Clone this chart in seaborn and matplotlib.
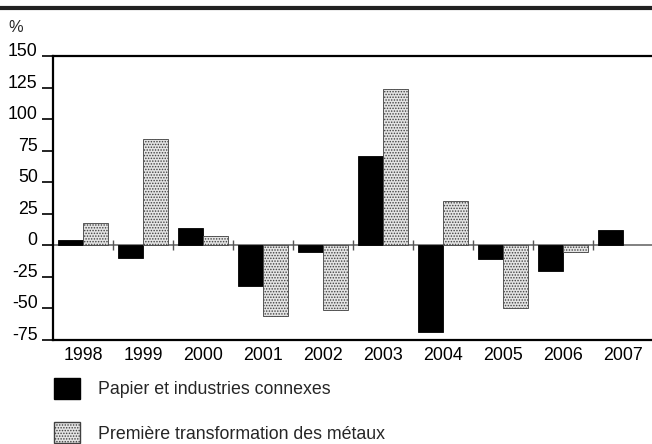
import pandas as pd
import numpy as np
import matplotlib.pyplot as plt
import seaborn as sns
from matplotlib.lines import Line2D
from matplotlib.patches import Patch

sns.set_style('white')
plt.rcParams['font.family'] = ['Liberation Sans', 'DejaVu Sans']
plt.rcParams['axes.unicode_minus'] = False
plt.rcParams['hatch.linewidth'] = 0.7
plt.rcParams['hatch.color'] = '#606060'

# Data (% change per year)
years = ['1998', '1999', '2000', '2001', '2002', '2003', '2004', '2005', '2006', '2007']
papier = [4, -10, 14, -32.5, -5, 71, -69, -11, -20, 12]
metaux = [18, 84, 7, -56, -51, 124, 35.5, -50, -5, np.nan]
series_names = ['Papier et industries connexes', 'Première transformation des métaux']

df = pd.DataFrame({
    'year': years * 2,
    'value': papier + metaux,
    'series': [series_names[0]] * len(years) + [series_names[1]] * len(years),
}).dropna()

FS = 12.8
W, H = 652, 444
fig = plt.figure(figsize=(W / 100, H / 100), dpi=100)
ax = fig.add_axes([53 / W, (H - 340) / H, 600 / W, 284 / H])

sns.barplot(data=df, x='year', y='value', hue='series', order=years,
            hue_order=series_names, palette=['black', '#e4e4e4'],
            width=0.84, saturation=1, legend=False, ax=ax,
            edgecolor='black', linewidth=0.6)

# dotted pattern for second series
for bar in ax.containers[1]:
    bar.set_hatch('......')
    bar.set_edgecolor('#404040')

ax.set_xlim(-0.5, len(years) - 0.5)
ax.set_ylim(-75, 150)
ax.set_yticks(np.arange(-75, 151, 25))
ax.set_xlabel('')
ax.set_ylabel('')

# zero line and category separators
ax.axhline(0, color='#808080', lw=1.4, zorder=0.5)
bounds = np.arange(len(years) - 1) + 0.5
ax.vlines(bounds, -4, 4, color='#555555', lw=1.0, zorder=3)

for side in ['left', 'bottom', 'top']:
    ax.spines[side].set_visible(True)
    ax.spines[side].set_color('black')
    ax.spines[side].set_linewidth(1.6)
ax.spines['right'].set_visible(False)

ax.tick_params(axis='y', direction='out', length=8, width=1.2, pad=3,
               labelsize=FS, left=True, colors='black')
ax.tick_params(axis='x', length=0, pad=5, labelsize=FS, colors='black')
for lbl in ax.get_yticklabels():
    lbl.set_verticalalignment('baseline')

fig.text(8 / W, 1 - 27 / H, '%', fontsize=FS - 1, va='center', ha='left')

# decorative top rule
fig.add_artist(Line2D([0, 1], [1 - 8 / H, 1 - 8 / H], color='#222222', lw=3,
                      transform=fig.transFigure))

handles = [Patch(facecolor='black', edgecolor='black'),
           Patch(facecolor='#e4e4e4', edgecolor='#404040', hatch='......')]
fig.legend(handles, series_names, loc='upper left',
           bbox_to_anchor=(54 / W, 1 - 378 / H), frameon=False,
           fontsize=FS, handlelength=1.45, handleheight=1.45,
           handletextpad=1.0, labelspacing=1.3, borderpad=0, borderaxespad=0)

fig.savefig('out.png', dpi=100)
